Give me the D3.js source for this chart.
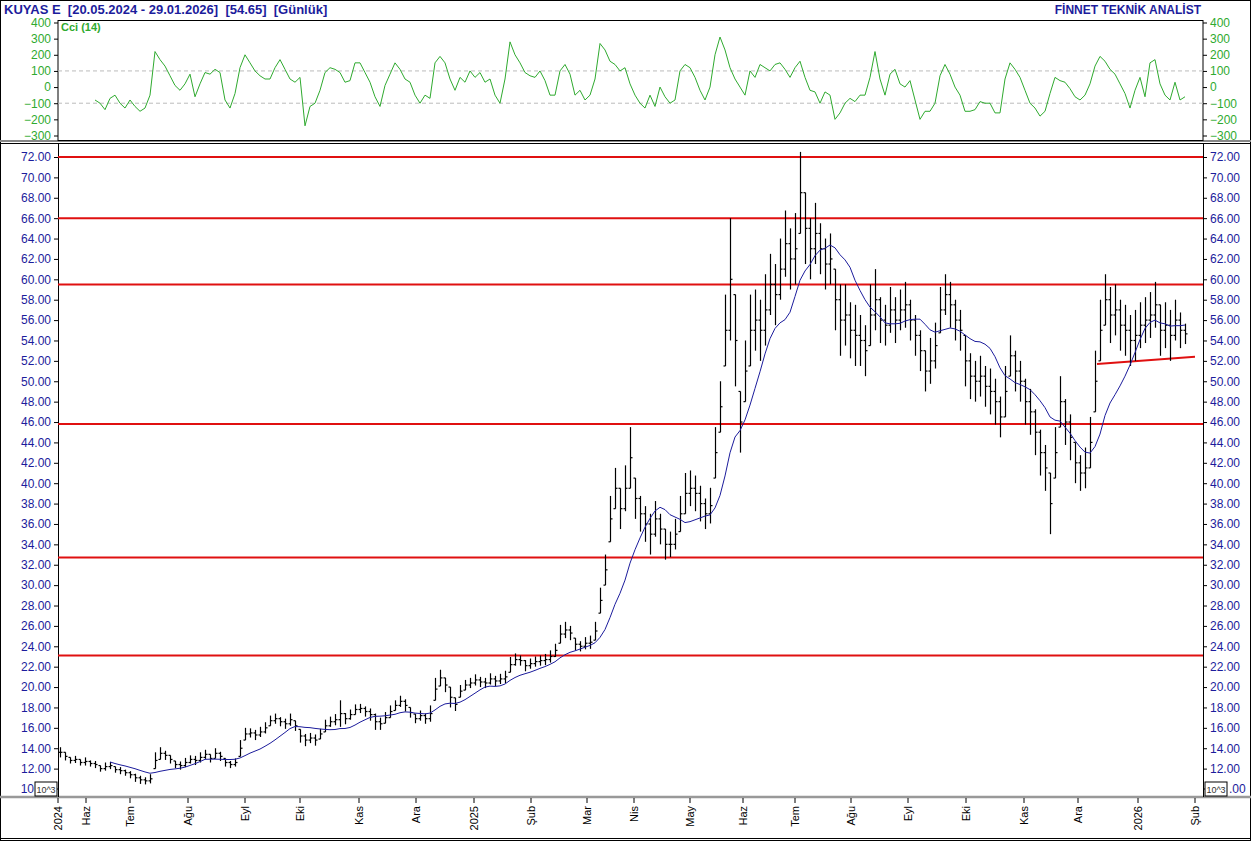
<!DOCTYPE html>
<html><head><meta charset="utf-8">
<script src="https://cdn.jsdelivr.net/npm/d3@7"></script>
<style>body{margin:0;background:#fff}svg{font-family:"Liberation Sans",Arial,sans-serif}text{white-space:pre}</style>
</head><body><svg id="c" width="1251" height="841"></svg>
<script>
const title = "KUYAS E  [20.05.2024 - 29.01.2026]  [54.65]  [Günlük]";
const brand = "FİNNET TEKNİK ANALİST";
// closes, one per sample (≈1.8 trading days each)
const closes = [13.6,13.2,12.8,12.9,12.6,12.7,12.5,12.4,12.0,12.2,12.3,11.9,11.8,11.6,11.4,11.1,10.9,10.8,11.0,12.8,
13.5,13.3,12.9,12.4,12.3,12.6,12.9,12.8,13.1,13.4,13.0,13.5,13.2,12.6,12.4,12.6,14.0,15.4,15.5,15.3,
15.6,16.0,16.7,16.9,16.6,16.4,16.8,16.2,15.2,14.8,15.0,14.8,15.4,16.2,16.6,16.8,17.4,16.9,17.3,17.8,
17.9,17.6,17.3,16.6,16.4,17.0,17.6,18.2,18.6,18.2,17.5,16.9,17.2,16.9,17.4,19.8,20.9,20.2,19.0,18.3,
19.6,20.2,20.4,20.7,20.5,20.4,20.8,20.6,20.8,21.0,22.2,22.7,22.6,22.1,22.3,22.5,22.6,22.7,23.0,23.6,
25.2,25.6,25.3,24.2,24.0,24.3,24.4,25.5,28.5,31.5,36.5,39.5,37.5,39.5,42.5,38.5,37.0,36.0,35.0,36.5,
35.5,34.0,34.0,35.0,37.0,39.0,39.5,39.0,38.0,37.0,37.8,43.0,47.5,55.0,60.0,54.0,46.0,51.0,55.0,56.0,
55.0,57.0,59.5,58.5,61.0,63.5,62.0,63.0,68.5,65.0,63.0,64.5,63.0,61.5,62.0,58.0,56.0,56.5,55.0,54.5,
54.0,53.0,56.5,58.0,56.0,55.5,57.0,56.0,57.0,57.5,56.0,54.5,53.0,51.0,52.0,53.5,57.0,58.5,57.5,56.0,
55.0,52.0,50.5,50.0,50.5,49.5,49.0,48.0,46.5,49.0,52.5,51.0,50.0,48.0,47.0,45.0,43.0,41.5,38.0,43.0,
48.0,46.0,44.5,42.0,41.0,41.5,44.0,50.0,55.0,58.0,56.5,57.0,55.5,55.0,54.0,54.5,55.5,56.0,56.5,57.5,
55.0,55.5,54.5,56.0,55.0,54.65];
// high-low span per sample
const spans = [1.0,0.8,0.6,0.7,0.6,0.8,0.6,0.7,0.6,0.8,0.7,0.6,0.7,0.6,0.7,0.8,0.8,0.7,0.9,1.6,
1.2,0.9,0.8,0.7,0.8,0.9,0.8,0.9,1.0,0.9,0.8,1.0,0.9,0.8,0.7,0.8,1.6,1.2,0.9,1.0,
1.0,1.1,1.0,1.0,0.9,1.0,1.2,1.0,1.3,1.2,1.0,1.1,1.0,1.2,1.0,1.1,2.6,1.1,1.0,1.0,
0.9,1.0,1.2,1.6,1.2,1.1,1.2,1.0,1.1,1.2,1.0,0.9,1.0,1.0,1.6,2.2,1.6,1.4,2.0,1.3,
1.2,1.0,1.0,1.1,1.0,1.0,1.1,1.0,1.0,1.2,1.5,1.2,1.0,1.1,1.0,1.0,1.0,1.1,1.2,1.3,
1.8,1.6,1.4,1.2,1.0,1.2,1.3,1.8,2.5,3.0,4.5,4.0,4.0,4.5,6.0,4.0,3.5,3.5,4.0,3.5,
3.0,3.0,2.5,3.0,3.5,4.0,3.5,3.5,3.5,3.0,3.5,5.0,5.0,7.0,12.0,9.0,6.0,6.0,7.0,6.0,
6.0,7.0,6.0,6.0,6.0,6.5,6.0,7.0,8.0,7.0,6.0,6.0,5.0,5.0,5.0,6.0,7.0,6.0,5.5,6.0,
5.0,5.0,6.0,6.0,4.5,4.0,4.5,4.5,4.0,4.5,4.0,4.0,4.0,4.0,4.5,4.5,4.5,4.0,4.5,4.0,
4.0,5.0,4.5,4.0,4.0,4.0,4.5,4.5,4.0,5.0,4.0,4.0,4.0,4.5,4.5,4.5,4.5,4.5,6.0,5.0,
5.0,4.5,4.5,4.0,3.5,4.0,5.0,6.0,6.0,5.0,5.5,5.0,5.0,5.0,5.0,5.0,4.5,4.5,4.5,4.5,
5.0,4.5,5.0,4.0,3.5,2.0];
// CCI(14), first value at sample 7
const cciStart = 7;
const cci = [-80,-100,-140,-70,-50,-100,-130,-80,-120,-150,-130,-50,220,170,130,70,10,-20,20,80,
-60,20,90,80,110,90,-80,-130,-40,120,200,150,100,70,50,50,120,170,110,50,
30,60,-240,-120,-100,-20,90,120,110,90,30,40,150,150,90,30,-60,-120,10,80,
150,110,50,30,-50,-100,-50,-70,150,190,150,50,-20,60,30,100,60,90,30,50,
-50,-100,50,280,200,150,90,70,60,100,40,-50,-50,100,140,80,-50,-20,-80,-50,
50,270,230,160,140,100,120,20,-50,-100,-130,-50,-120,0,-60,-100,-80,100,140,120,
60,-20,-80,0,200,310,230,120,50,0,-50,100,60,140,120,100,140,150,110,60,
120,160,60,-20,-30,-100,-30,-50,-200,-160,-100,-70,-90,-50,-50,60,220,50,-50,80,
110,20,0,40,-80,-200,-150,-150,-100,70,140,80,0,-50,-150,-150,-140,-90,-100,-100,
-160,-160,50,150,110,60,-20,-100,-130,-180,-150,-40,60,40,30,-10,-60,-80,-50,20,
130,190,160,110,80,20,-40,-130,-20,60,-60,150,170,20,-50,-80,30,-80,-60];
const priceTicks = d3.range(12,73,2);
const cciTicks = [400,300,200,100,0,-100,-200,-300];
const levels = [72.0,66.0,59.5,45.8,32.7,23.1];
const trend = [[207.4,51.7],[227,52.4]];
const months = ["2024","Haz","Tem","Ağu","Eyl","Eki","Kas","Ara","2025","Şub","Mar","Nis","May","Haz","Tem","Ağu","Eyl","Eki","Kas","Ara","2026","Şub"];
const monthPos = [-0.4,5.2,14,25.6,37,48,59.8,71.2,82.8,94.2,105.4,114.8,126,136.6,147,158.2,169.6,181.2,192.8,203.6,215.6,227];

const svg = d3.select("#c");
const L=58,R=1203;
const x = d3.scaleLinear().domain([0,225]).range([60,1185]);
const y = d3.scaleLinear().domain([10,72]).range([789,157]);
const yc = d3.scaleLinear().domain([-300,400]).range([135.5,22.5]);
const blue="#1c1c9c", green="#2faa2f";

svg.append("rect").attr("x",0.5).attr("y",0.5).attr("width",1250).attr("height",840).attr("fill","none").attr("stroke","#000");
svg.append("line").attr("x1",0).attr("x2",1251).attr("y1",141).attr("y2",141).attr("stroke","#888").attr("stroke-width",2);
svg.append("line").attr("x1",0).attr("x2",1251).attr("y1",143.5).attr("y2",143.5).attr("stroke","#000");
svg.append("line").attr("x1",0).attr("x2",1251).attr("y1",797).attr("y2",797).attr("stroke","#999").attr("stroke-width",2.5);
svg.append("line").attr("x1",0).attr("x2",1251).attr("y1",838.5).attr("y2",838.5).attr("stroke","#000");
svg.append("rect").attr("x",L).attr("y",20.5).attr("width",R-L).attr("height",120).attr("fill","none").attr("stroke","#000");
svg.append("line").attr("x1",L+0.5).attr("x2",L+0.5).attr("y1",144).attr("y2",797).attr("stroke","#000");
svg.append("line").attr("x1",R+0.5).attr("x2",R+0.5).attr("y1",144).attr("y2",797).attr("stroke","#000");

svg.append("text").attr("x",4).attr("y",14).attr("fill",blue).attr("font-size",13).attr("font-weight","bold").text(title);
svg.append("text").attr("x",1201).attr("y",14).attr("text-anchor","end").attr("fill",blue).attr("font-size",12).attr("font-weight","bold").text(brand);

const cl = svg.append("g").attr("transform",`translate(${L},0)`).call(d3.axisLeft(yc).tickValues(cciTicks).tickSize(4).tickFormat(d3.format("d")));
const cr = svg.append("g").attr("transform",`translate(${R},0)`).call(d3.axisRight(yc).tickValues(cciTicks).tickSize(4).tickFormat(d3.format("d")));
[cl,cr].forEach(g=>{g.select(".domain").remove();g.selectAll("line").attr("stroke","#000");g.selectAll("text").attr("fill",green).attr("font-size",12).attr("font-family","Liberation Sans");});
[100,-100].forEach(v=>svg.append("line").attr("x1",L).attr("x2",R).attr("y1",yc(v)).attr("y2",yc(v)).attr("stroke","#bbb").attr("stroke-dasharray","4,3"));
svg.append("text").attr("x",61).attr("y",31).attr("fill",green).attr("font-size",11).attr("font-weight","bold").text("Cci (14)");
svg.append("path").datum(cci).attr("fill","none").attr("stroke",green).attr("stroke-width",1)
  .attr("d",d3.line().x((d,i)=>x(i+cciStart)).y(d=>yc(d)));

const fmt = d3.format(".2f");
const pl = svg.append("g").attr("transform",`translate(${L},0)`).call(d3.axisLeft(y).tickValues(priceTicks).tickSize(4).tickFormat(fmt));
const pr = svg.append("g").attr("transform",`translate(${R},0)`).call(d3.axisRight(y).tickValues(priceTicks).tickSize(4).tickFormat(fmt));
[pl,pr].forEach(g=>{g.select(".domain").remove();g.selectAll("line").attr("stroke","#000");g.selectAll("text").attr("fill",blue).attr("font-size",12).attr("font-family","Liberation Sans");});
// bottom tick 10 (partly covered by the 10^3 box in the reference)
svg.append("line").attr("x1",L-4).attr("x2",L).attr("y1",y(10)).attr("y2",y(10)).attr("stroke","#000");
svg.append("line").attr("x1",R).attr("x2",R+4).attr("y1",y(10)).attr("y2",y(10)).attr("stroke","#000");
svg.append("text").attr("x",L-24).attr("y",y(10)+4).attr("text-anchor","end").attr("fill",blue).attr("font-size",12).text("10");
svg.append("text").attr("x",R+26).attr("y",y(10)+4).attr("fill",blue).attr("font-size",12).text(".00");
[[L-23,782],[R+2,782]].forEach(([bx,by])=>{
  svg.append("rect").attr("x",bx).attr("y",by).attr("width",22).attr("height",14).attr("fill","#fff").attr("stroke","#000");
  svg.append("text").attr("x",bx+11).attr("y",by+11).attr("text-anchor","middle").attr("font-size",9).attr("fill","#333").text("10^3");
});

levels.forEach(v=>svg.append("line").attr("x1",L).attr("x2",R).attr("y1",y(v)).attr("y2",y(v)).attr("stroke","#e01010").attr("stroke-width",2));
svg.append("line").attr("x1",x(trend[0][0])).attr("y1",y(trend[0][1])).attr("x2",x(trend[1][0])).attr("y2",y(trend[1][1])).attr("stroke","#e01010").attr("stroke-width",2);

const g = svg.append("g").attr("stroke","#000").attr("stroke-width",1.2);
closes.forEach((c,i)=>{
  const s=spans[i], hi=c+s*0.5, lo=c-s*0.5;
  const o = i>0?closes[i-1]:c;
  const xx = Math.round(x(i))+0.5;
  const oy = y(Math.max(lo,Math.min(hi,o)));
  g.append("line").attr("x1",xx).attr("x2",xx).attr("y1",y(hi)).attr("y2",y(lo));
  g.append("line").attr("x1",xx-2).attr("x2",xx).attr("y1",oy).attr("y2",oy);
  g.append("line").attr("x1",xx).attr("x2",xx+2).attr("y1",y(c)).attr("y2",y(c));
});

const W=11;
const ma = closes.map((c,i)=>i<W-1?null:d3.mean(closes.slice(i-W+1,i+1)));
svg.append("path").datum(ma.map((v,i)=>[i,v]).filter(d=>d[1]!==null)).attr("fill","none").attr("stroke",blue).attr("stroke-width",1)
  .attr("d",d3.line().x(d=>x(d[0])).y(d=>y(d[1])));

const dg = svg.append("g");
months.forEach((m,i)=>{
  const xx = x(monthPos[i]);
  dg.append("line").attr("x1",xx).attr("x2",xx).attr("y1",798).attr("y2",803).attr("stroke","#000");
  dg.append("text").attr("transform",`translate(${xx+4},806) rotate(-90)`).attr("text-anchor","end").attr("font-size",11).attr("fill","#000").text(m);
});
</script></body></html>
